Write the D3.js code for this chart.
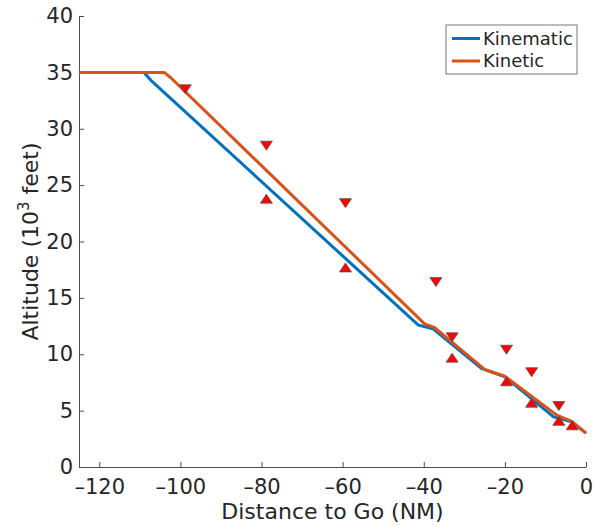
<!DOCTYPE html>
<html>
<head>
<meta charset="utf-8">
<script src="https://cdn.jsdelivr.net/npm/d3@7"></script>
<style>
  body { margin: 0; background: #fff; }
  text { font-family: "DejaVu Sans", sans-serif; fill: #262626; }
</style>
</head>
<body>
<div id="chart"></div>
<script>
// flight profiles (distance to go in NM, altitude in 1000 ft)
var kinematicDist = [-125, -109, -107, -41.4, -37.7, -25.8, -20, -8, -3.5, 0];
var kinematicAlt  = [35, 35, 34.2, 12.6, 12.25, 8.75, 8.0, 4.45, 4.0, 3.0];
var kineticDist   = [-125, -104, -102.3, -39.8, -37.3, -25, -20, -7.2, -3.5, 0];
var kineticAlt    = [35, 35, 34.5, 12.7, 12.35, 8.65, 8.05, 4.6, 4.05, 3.0];

// altitude constraints: "at or below" (down triangles) and "at or above" (up triangles)
var belowDist = [-98.8, -78.8, -59.3, -37, -33, -19.6, -13.4, -6.7];
var belowAlt  = [33.5, 28.5, 23.4, 16.4, 11.5, 10.4, 8.4, 5.4];
var aboveDist = [-78.8, -59.3, -33, -19.6, -13.4, -6.7, -3.4];
var aboveAlt  = [23.8, 17.7, 9.7, 7.6, 5.7, 4.1, 3.7];

var xTicks = [-120, -100, -80, -60, -40, -20, 0];
var yTicks = [0, 5, 10, 15, 20, 25, 30, 35, 40];
var seriesNames = ["Kinematic", "Kinetic"];
var colors = ["#0072BD", "#D95319"];

var W = 601, H = 526;
var margin = {top: 16, right: 15, bottom: 59, left: 79};

var svg = d3.select("#chart")
  .append("svg")
    .attr("width", W)
    .attr("height", H);

var x = d3.scaleLinear()
  .domain([-125, 0])
  .range([margin.left, W - margin.right]);

var y = d3.scaleLinear()
  .domain([0, 40])
  .range([H - margin.bottom, margin.top]);

// matlab-ish minus sign (en dash is closer in width than U+2212)
var fmt = function(d) { return d < 0 ? "\u2013" + Math.abs(d) : String(d); };

// axes, ticks pointing inward like matlab
var xAxis = svg.append("g")
  .attr("transform", "translate(0," + (H - margin.bottom) + ")")
  .call(d3.axisBottom(x).tickValues(xTicks).tickFormat(fmt)
    .tickSizeInner(-5).tickSizeOuter(0).tickPadding(12));

var yAxis = svg.append("g")
  .attr("transform", "translate(" + margin.left + ",0)")
  .call(d3.axisLeft(y).tickValues(yTicks).tickFormat(fmt)
    .tickSizeInner(-5).tickSizeOuter(0).tickPadding(6));

[xAxis, yAxis].forEach(function(g) {
  g.selectAll("path, line").attr("stroke", "#4d4d4d");
  g.selectAll("text")
    .style("font-family", "'DejaVu Sans', sans-serif")
    .style("font-size", "21px")
    .attr("fill", "#262626");
});

// axis labels
svg.append("text")
  .attr("x", (margin.left + W - margin.right) / 2)
  .attr("y", 519)
  .style("text-anchor", "middle")
  .style("font-size", "22px")
  .text("Distance to Go (NM)");

var ylab = svg.append("text")
  .attr("transform", "translate(38," + ((margin.top + H - margin.bottom) / 2) + ") rotate(-90)")
  .style("text-anchor", "middle")
  .style("font-size", "22px");
ylab.append("tspan").text("Altitude (10");
ylab.append("tspan").attr("dy", -9).style("font-size", "15px").text("3");
ylab.append("tspan").attr("dy", 9).text(" feet)");

// profile lines
var line = d3.line()
  .x(function(d) { return x(d[0]); })
  .y(function(d) { return y(d[1]); });

var profiles = [
  d3.zip(kinematicDist, kinematicAlt),
  d3.zip(kineticDist, kineticAlt)
];

profiles.forEach(function(p, i) {
  svg.append("path")
    .datum(p)
    .attr("fill", "none")
    .attr("stroke", colors[i])
    .attr("stroke-width", 3)
    .attr("stroke-linejoin", "round")
    .attr("d", line);
});

// constraint markers - flattened triangle centred on its box
var flatTri = {
  draw: function(ctx, size) {
    var w = Math.sqrt(size), h = w * 0.75;
    ctx.moveTo(0, -h / 2);
    ctx.lineTo(w / 2, h / 2);
    ctx.lineTo(-w / 2, h / 2);
    ctx.closePath();
  }
};
var tri = d3.symbol().type(flatTri).size(144);

svg.selectAll(".below")
  .data(d3.zip(belowDist, belowAlt))
  .enter()
  .append("path")
    .attr("class", "below")
    .attr("d", tri)
    .attr("transform", function(d) { return "translate(" + x(d[0]) + "," + y(d[1]) + ") rotate(180)"; })
    .attr("fill", "#ff0000")
    .attr("stroke", "#555")
    .attr("stroke-width", 0.8);

svg.selectAll(".above")
  .data(d3.zip(aboveDist, aboveAlt))
  .enter()
  .append("path")
    .attr("class", "above")
    .attr("d", tri)
    .attr("transform", function(d) { return "translate(" + x(d[0]) + "," + y(d[1]) + ")"; })
    .attr("fill", "#ff0000")
    .attr("stroke", "#555")
    .attr("stroke-width", 0.8);

// legend
var legend = svg.append("g").attr("transform", "translate(446,25)");
legend.append("rect")
  .attr("width", 131)
  .attr("height", 49)
  .attr("fill", "#fff")
  .attr("stroke", "#777")
  .attr("stroke-width", 1);

seriesNames.forEach(function(name, i) {
  var yy = 13.5 + i * 22.5;
  legend.append("line")
    .attr("x1", 6).attr("x2", 34)
    .attr("y1", yy).attr("y2", yy)
    .attr("stroke", colors[i])
    .attr("stroke-width", 3);
  legend.append("text")
    .attr("x", 37)
    .attr("y", yy)
    .attr("dy", "0.35em")
    .style("font-size", "18px")
    .text(name);
});
</script>
</body>
</html>
